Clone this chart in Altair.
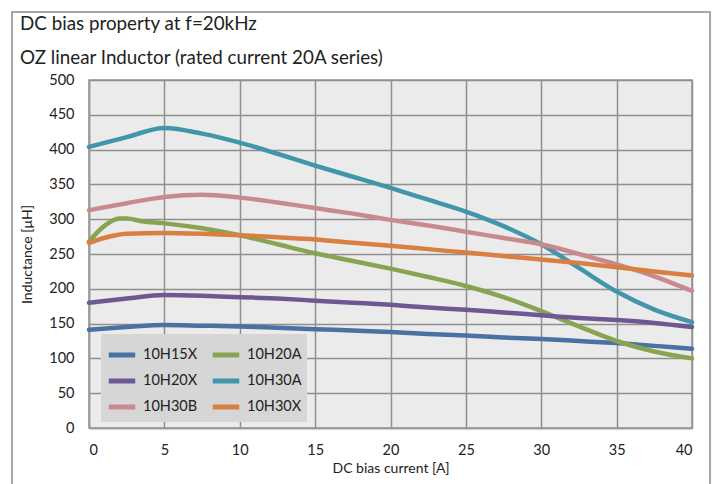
import altair as alt
import pandas as pd

x_std = [0, 2.5, 5, 7.5, 10, 12.5, 15, 17.5, 20, 22.5, 25, 27.5, 30, 32.5, 35, 37.5, 40]

h15x = [141, 145, 148, 147, 146, 144, 142, 140, 138, 135, 133, 130, 128, 125, 122, 118, 114]
h20x = [180, 186, 191, 190, 188, 186, 183, 180, 177, 173, 170, 166, 162, 158, 155, 151, 145]
h30a = [404, 418, 431, 423, 410, 394, 377, 361, 345, 328, 311, 290, 264, 230, 196, 170, 152]
h30b = [313, 323, 332, 335, 331, 324, 316, 308, 299, 291, 282, 273, 264, 250, 235, 218, 197]

x_20a = [0, 1, 2, 2.5, 3.5, 5, 7.5, 10, 12.5, 15, 17.5, 20, 22.5, 25, 27.5, 30, 32.5, 35, 37.5, 40]
h20a = [268, 290, 301, 301, 297, 294, 287, 277, 264, 251, 240, 229, 217, 204, 188, 168, 146, 125, 110, 100]

x_30x = [0, 1, 2.5, 5, 7.5, 10, 12.5, 15, 17.5, 20, 22.5, 25, 27.5, 30, 32.5, 35, 37.5, 40]
h30x = [266, 273, 279, 280, 279, 277, 274, 271, 266, 262, 257, 252, 247, 242, 237, 231, 225, 219]

series_names = ["10H15X", "10H20A", "10H20X", "10H30A", "10H30B", "10H30X"]
series_colors = ["#4a71a3", "#88a452", "#6e5893", "#4196ab", "#c98a8f", "#d97f42"]

x_ticks = [0, 5, 10, 15, 20, 25, 30, 35, 40]
y_ticks = [0, 50, 100, 150, 200, 250, 300, 350, 400, 450, 500]

rows = []
for name, xs, ys in [
    ("10H15X", x_std, h15x),
    ("10H20A", x_20a, h20a),
    ("10H20X", x_std, h20x),
    ("10H30A", x_std, h30a),
    ("10H30B", x_std, h30b),
    ("10H30X", x_30x, h30x),
]:
    for xv, yv in zip(xs, ys):
        rows.append({"series": name, "current": xv, "inductance": yv})
df = pd.DataFrame(rows)

FONT = "Lato"

lines = alt.Chart(df).mark_line(strokeWidth=4.5, interpolate="monotone", strokeCap="round").encode(
    x=alt.X("current:Q", scale=alt.Scale(domain=[0, 40], nice=False),
            axis=alt.Axis(values=x_ticks, title="DC bias current [A]")),
    y=alt.Y("inductance:Q", scale=alt.Scale(domain=[0, 500], nice=False),
            axis=alt.Axis(values=y_ticks, title="Inductance [μH]")),
    color=alt.Color("series:N",
                    scale=alt.Scale(domain=series_names, range=series_colors),
                    legend=alt.Legend(title=None, orient="none", legendX=12, legendY=254,
                                      direction="horizontal", columns=2,
                                      fillColor="#d6d6d6", padding=5,
                                      symbolType="stroke", symbolStrokeWidth=5, symbolSize=700,
                                      labelFontSize=14.5, labelFont=FONT, labelColor="#222",
                                      rowPadding=-4, columnPadding=4, labelOffset=5)),
    detail="series:N",
)

frame = alt.Chart(pd.DataFrame({"k": [0]})).mark_rect(
    fill="transparent", stroke="#a6a6a6", strokeWidth=2, clip=False
).encode(
    x=alt.value(-77), x2=alt.value(621), y=alt.value(-68), y2=alt.value(430)
)

chart = alt.layer(frame, lines).properties(
    width=603, height=348,
    padding={"left": 81, "top": 72, "right": 19, "bottom": 56},
    autosize=alt.AutoSizeParams(type="none"),
    title=alt.TitleParams(
        text=["DC bias property at f=20kHz", "OZ linear Inductor (rated current 20A series)"],
        anchor="start", dx=9, fontSize=18.8, fontWeight="normal", font=FONT,
        lineHeight=34, offset=-57, color="#222",
    ),
).configure_view(
    fill="#ebebeb", stroke="#999999", strokeWidth=1.5
).configure_axis(
    grid=True, gridColor="#8f8f8f", gridWidth=1.5, domainColor="#999999", domainWidth=1.5,
    ticks=False, labelFont=FONT, labelFontSize=14.5, labelColor="#222",
    titleFont=FONT, titleFontSize=14, titleColor="#222", titleFontWeight="normal",
    labelPadding=15,
).configure_axisY(titlePadding=14).configure_axisX(titlePadding=5)

chart.save("out.html", embed_options={"renderer": "svg", "actions": False})
